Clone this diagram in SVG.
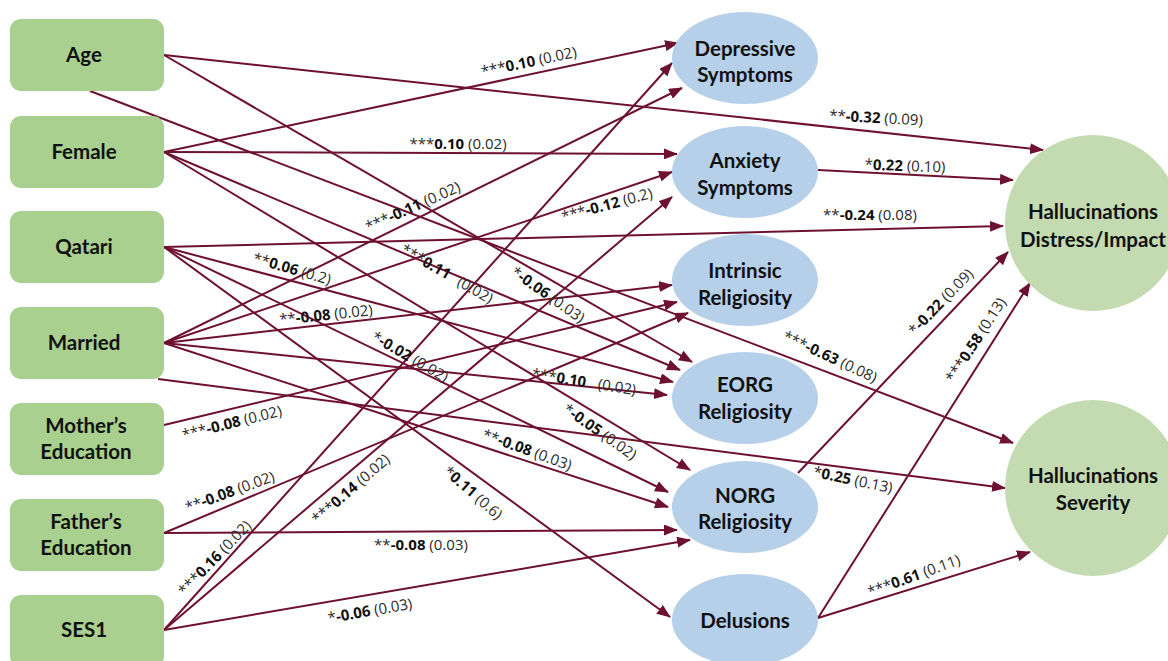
<svg xmlns="http://www.w3.org/2000/svg" width="1168" height="661" viewBox="0 0 1168 661">
<style>
.box{fill:#a9d08e}
.ell{fill:#b6d0ea}
.out{fill:#c4dbb1}
.nt{font-family:Lato,"Open Sans",sans-serif;font-size:20.5px;font-weight:bold;fill:#111;text-anchor:middle}
.ln{stroke:#6e1130;stroke-width:2;fill:none;marker-end:url(#ah)}
.lb{font-family:"Open Sans",Lato,sans-serif;font-size:15px;fill:#2a2a2a;text-anchor:middle}
.b{font-weight:bold;fill:#111}
</style>
<defs>
<marker id="ah" viewBox="0 0 14 11" refX="13" refY="5.5" markerWidth="14" markerHeight="11" markerUnits="userSpaceOnUse" orient="auto"><path d="M0,0 L14,5.5 L0,11 z" fill="#6e1130"/></marker>
</defs>
<rect width="1168" height="661" fill="#fff"/>
<g id="connectors">
<line class="ln" x1="164" y1="55" x2="1043" y2="150"/>
<line class="ln" x1="164" y1="55" x2="692" y2="362"/>
<line class="ln" x1="90" y1="91" x2="1013" y2="443"/>
<line class="ln" x1="164" y1="152" x2="678" y2="43"/>
<line class="ln" x1="164" y1="152" x2="677" y2="154"/>
<line class="ln" x1="164" y1="152" x2="680" y2="370"/>
<line class="ln" x1="164" y1="152" x2="690" y2="470"/>
<line class="ln" x1="164" y1="247" x2="1003" y2="226"/>
<line class="ln" x1="164" y1="247" x2="673" y2="382"/>
<line class="ln" x1="164" y1="247" x2="668" y2="492"/>
<line class="ln" x1="164" y1="247" x2="670" y2="617"/>
<line class="ln" x1="164" y1="343" x2="682" y2="88"/>
<line class="ln" x1="164" y1="343" x2="672" y2="172"/>
<line class="ln" x1="164" y1="343" x2="672" y2="285"/>
<line class="ln" x1="164" y1="343" x2="667" y2="395"/>
<line class="ln" x1="164" y1="343" x2="668" y2="507"/>
<line class="ln" x1="158" y1="379" x2="1005" y2="488"/>
<line class="ln" x1="164" y1="425" x2="677" y2="302"/>
<line class="ln" x1="164" y1="533" x2="688" y2="313"/>
<line class="ln" x1="164" y1="533" x2="677" y2="530"/>
<line class="ln" x1="164" y1="630" x2="672" y2="63"/>
<line class="ln" x1="164" y1="630" x2="672" y2="197"/>
<line class="ln" x1="164" y1="630" x2="690" y2="540"/>
<line class="ln" x1="818" y1="170" x2="1013" y2="180"/>
<line class="ln" x1="798" y1="473" x2="1008" y2="252"/>
<line class="ln" x1="818" y1="618" x2="1030" y2="283"/>
<line class="ln" x1="818" y1="618" x2="1030" y2="552"/>
</g>
<g id="n-age"><rect class="box" x="10" y="19" width="154" height="72" rx="11"/><text class="nt" x="84" y="62">Age</text></g>
<g id="n-female"><rect class="box" x="10" y="116" width="154" height="72" rx="11"/><text class="nt" x="84" y="159">Female</text></g>
<g id="n-qatari"><rect class="box" x="10" y="211" width="154" height="72" rx="11"/><text class="nt" x="84" y="254">Qatari</text></g>
<g id="n-married"><rect class="box" x="10" y="307" width="154" height="72" rx="11"/><text class="nt" x="84" y="350">Married</text></g>
<g id="n-mother"><rect class="box" x="10" y="403" width="154" height="72" rx="11"/><text class="nt" x="86" y="433">Mother’s</text><text class="nt" x="86" y="459">Education</text></g>
<g id="n-father"><rect class="box" x="10" y="499" width="154" height="72" rx="11"/><text class="nt" x="86" y="529">Father’s</text><text class="nt" x="86" y="555">Education</text></g>
<g id="n-ses1"><rect class="box" x="10" y="595" width="154" height="72" rx="11"/><text class="nt" x="84" y="637">SES1</text></g>
<g id="n-depressive"><ellipse class="ell" cx="745" cy="58" rx="73" ry="46"/><text class="nt" x="745" y="56">Depressive</text><text class="nt" x="745" y="82">Symptoms</text></g>
<g id="n-anxiety"><ellipse class="ell" cx="745" cy="172" rx="73" ry="46"/><text class="nt" x="745" y="168">Anxiety</text><text class="nt" x="745" y="195">Symptoms</text></g>
<g id="n-intrinsic"><ellipse class="ell" cx="745" cy="280" rx="73" ry="46"/><text class="nt" x="745" y="278">Intrinsic</text><text class="nt" x="745" y="305">Religiosity</text></g>
<g id="n-eorg"><ellipse class="ell" cx="745" cy="398" rx="73" ry="46"/><text class="nt" x="745" y="392">EORG</text><text class="nt" x="745" y="419">Religiosity</text></g>
<g id="n-norg"><ellipse class="ell" cx="745" cy="507" rx="73" ry="46"/><text class="nt" x="745" y="503">NORG</text><text class="nt" x="745" y="529">Religiosity</text></g>
<g id="n-delusions"><ellipse class="ell" cx="745" cy="620" rx="73" ry="46"/><text class="nt" x="745" y="628">Delusions</text></g>
<g id="n-distress"><circle class="out" cx="1093" cy="223" r="88"/><text class="nt" x="1093" y="219">Hallucinations</text><text class="nt" x="1093" y="247">Distress/Impact</text></g>
<g id="n-severity"><circle class="out" cx="1093" cy="488" r="88"/><text class="nt" x="1093" y="483">Hallucinations</text><text class="nt" x="1093" y="510">Severity</text></g>
<g id="labels">
<text class="lb" transform="translate(529,62) rotate(-12)" y="5">***<tspan class="b">0.10</tspan> (0.02)</text>
<text class="lb" transform="translate(876,118) rotate(3)" y="5">**<tspan class="b">-0.32</tspan> (0.09)</text>
<text class="lb" transform="translate(458,144)" y="5">***<tspan class="b">0.10</tspan> (0.02)</text>
<text class="lb" transform="translate(905,166) rotate(2)" y="5">*<tspan class="b">0.22</tspan> (0.10)</text>
<text class="lb" transform="translate(413,207) rotate(-24)" y="5">***<tspan class="b">-0.11</tspan> (0.02)</text>
<text class="lb" transform="translate(607,205) rotate(-15)" y="5">***<tspan class="b">-0.12</tspan> (0.2)</text>
<text class="lb" transform="translate(870,215)" y="5">**<tspan class="b">-0.24</tspan> (0.08)</text>
<text class="lb" transform="translate(292,269) rotate(16)" y="5">**<tspan class="b">0.06</tspan> (0.2)</text>
<text class="lb" transform="translate(447,274) rotate(30)" y="5">***<tspan class="b">0.11</tspan><tspan dx="10">(0.02)</tspan></text>
<text class="lb" transform="translate(548,295) rotate(35)" y="5">*<tspan class="b">-0.06</tspan> (0.03)</text>
<text class="lb" transform="translate(326,315) rotate(-6)" y="5">**<tspan class="b">-0.08</tspan> (0.02)</text>
<text class="lb" transform="translate(410,357) rotate(30)" y="5">*<tspan class="b">-0.02</tspan> (0.02)</text>
<text class="lb" transform="translate(584,382) rotate(9)" y="5">***<tspan class="b">0.10</tspan><tspan dx="12">(0.02)</tspan></text>
<text class="lb" transform="translate(232,423) rotate(-14)" y="5">***<tspan class="b">-0.08</tspan> (0.02)</text>
<text class="lb" transform="translate(600,432) rotate(35)" y="5">*<tspan class="b">-0.05</tspan> (0.02)</text>
<text class="lb" transform="translate(527,450) rotate(20)" y="5">**<tspan class="b">-0.08</tspan> (0.03)</text>
<text class="lb" transform="translate(230,492) rotate(-20)" y="5">**<tspan class="b">-0.08</tspan> (0.02)</text>
<text class="lb" transform="translate(351,489) rotate(-41)" y="5">***<tspan class="b">0.14</tspan> (0.02)</text>
<text class="lb" transform="translate(473,493) rotate(41)" y="5">*<tspan class="b">0.11</tspan> (0.6)</text>
<text class="lb" transform="translate(421,545)" y="5">**<tspan class="b">-0.08</tspan> (0.03)</text>
<text class="lb" transform="translate(215,558) rotate(-46)" y="5">***<tspan class="b">0.16</tspan> (0.02)</text>
<text class="lb" transform="translate(370,611) rotate(-10)" y="5">*<tspan class="b">-0.06</tspan> (0.03)</text>
<text class="lb" transform="translate(941,302) rotate(-46)" y="5">*<tspan class="b">-0.22</tspan> (0.09)</text>
<text class="lb" transform="translate(976,340) rotate(-57)" y="5">***<tspan class="b">0.58</tspan> (0.13)</text>
<text class="lb" transform="translate(830,357) rotate(25)" y="5">***<tspan class="b">-0.63</tspan> (0.08)</text>
<text class="lb" transform="translate(853,480) rotate(12)" y="5">*<tspan class="b">0.25</tspan> (0.13)</text>
<text class="lb" transform="translate(914,576) rotate(-20)" y="5">***<tspan class="b">0.61</tspan> (0.11)</text>
</g>
</svg>
